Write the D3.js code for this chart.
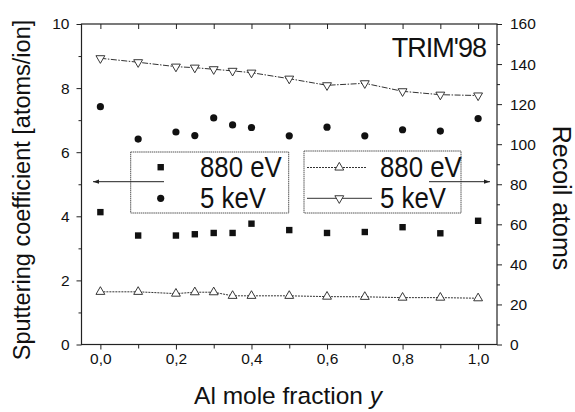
<!DOCTYPE html>
<html><head><meta charset="utf-8">
<script src="https://cdn.jsdelivr.net/npm/d3@7"></script>
<style>
html,body{margin:0;padding:0;background:#fff;}
svg{display:block;font-family:"Liberation Sans",Arial,sans-serif;}
</style></head>
<body><svg id="chart" width="575" height="412"></svg>
<script>
// ---- data ----
const xValues   = [0, 0.1, 0.2, 0.25, 0.3, 0.35, 0.4, 0.5, 0.6, 0.7, 0.8, 0.9, 1.0];
const sputter880 = [4.13, 3.40, 3.40, 3.44, 3.48, 3.48, 3.77, 3.57, 3.48, 3.51, 3.66, 3.47, 3.86];
const sputter5k  = [7.42, 6.41, 6.63, 6.52, 7.07, 6.85, 6.77, 6.51, 6.78, 6.51, 6.70, 6.66, 7.05];
const recoil880  = [26.3, 26.3, 25.4, 26.1, 26.1, 24.3, 24.3, 24.3, 23.9, 23.8, 23.4, 23.4, 23.1];
const recoil5k   = [142.9, 140.9, 138.7, 138.2, 137.4, 136.6, 135.7, 132.7, 129.4, 130.4, 126.4, 124.7, 124.3];
const xTicks = [0, 0.2, 0.4, 0.6, 0.8, 1.0];
const xMinorTicks = [0.1, 0.3, 0.5, 0.7, 0.9];
const yLeftTicks = [0, 2, 4, 6, 8, 10];
const yLeftMinor = [1, 3, 5, 7, 9];
const yRightTicks = [0, 20, 40, 60, 80, 100, 120, 140, 160];
const yRightMinor = [10, 30, 50, 70, 90, 110, 130, 150];
const legendLeft = ["880 eV", "5 keV"];
const legendRight = ["880 eV", "5 keV"];

const svg = d3.select("#chart");
const L = 81.5, R = 497, T = 24, B = 344.5;
const x = d3.scaleLinear().domain([-0.05, 1.05]).range([L, R]);
const yL = d3.scaleLinear().domain([0, 10]).range([B, T]);
const yR = d3.scaleLinear().domain([0, 160]).range([B, T]);
const fmt = d => d3.format(".1f")(d).replace(".", ",");

// axes
svg.append("g").attr("transform", `translate(0,${B})`)
  .call(d3.axisBottom(x).tickValues(xTicks).tickSize(5).tickPadding(3).tickFormat(fmt));
svg.append("g").attr("transform", `translate(0,${B})`)
  .call(d3.axisBottom(x).tickValues(xMinorTicks).tickSize(4).tickFormat(""));
svg.append("g").attr("transform", `translate(0,${T})`)
  .call(d3.axisBottom(x).tickValues(xTicks.concat(xMinorTicks)).tickSize(5).tickFormat(""));
svg.append("g").attr("transform", `translate(${L},0)`)
  .call(d3.axisLeft(yL).tickValues(yLeftTicks).tickSize(5).tickPadding(7));
svg.append("g").attr("transform", `translate(${L},0)`)
  .call(d3.axisLeft(yL).tickValues(yLeftMinor).tickSize(3).tickFormat(""));
svg.append("g").attr("transform", `translate(${R},0)`)
  .call(d3.axisRight(yR).tickValues(yRightTicks).tickSize(5).tickPadding(8));
svg.append("g").attr("transform", `translate(${R},0)`)
  .call(d3.axisRight(yR).tickValues(yRightMinor).tickSize(3).tickFormat(""));
svg.selectAll(".domain").remove();
svg.selectAll(".tick line").attr("stroke", "#222");
svg.selectAll(".tick text").attr("font-size", 15.5).attr("fill", "#111")
  .attr("font-family", "Liberation Sans, Arial, sans-serif");

// frame
svg.append("rect").attr("x", L).attr("y", T).attr("width", R - L).attr("height", B - T)
  .attr("fill", "none").attr("stroke", "#222").attr("stroke-width", 1.2);

// lines
const pts5 = xValues.map((v, i) => [x(v), yR(recoil5k[i])]);
const pts880 = xValues.map((v, i) => [x(v), yR(recoil880[i])]);
svg.append("path").attr("d", d3.line()(pts5)).attr("fill", "none")
  .attr("stroke", "#333").attr("stroke-width", 1).attr("stroke-dasharray", "6,1.5,1.5,1.5");
svg.append("path").attr("d", d3.line()(pts880)).attr("fill", "none")
  .attr("stroke", "#333").attr("stroke-width", 1).attr("stroke-dasharray", "2,1");

// markers
const tri = d3.symbol().type(d3.symbolTriangle).size(34);
svg.selectAll(".t5").data(pts5).join("path")
  .attr("d", tri).attr("transform", d => `translate(${d[0]},${d[1]}) rotate(180)`)
  .attr("fill", "#fff").attr("stroke", "#222").attr("stroke-width", 0.9);
svg.selectAll(".t880").data(pts880).join("path")
  .attr("d", tri).attr("transform", d => `translate(${d[0]},${d[1]})`)
  .attr("fill", "#fff").attr("stroke", "#222").attr("stroke-width", 0.9);
svg.selectAll(".sq").data(xValues).join("rect")
  .attr("x", (d, i) => x(d) - 3.2).attr("y", (d, i) => yL(sputter880[i]) - 3.2)
  .attr("width", 6.4).attr("height", 6.4).attr("fill", "#111");
svg.selectAll(".ci").data(xValues).join("circle")
  .attr("cx", d => x(d)).attr("cy", (d, i) => yL(sputter5k[i])).attr("r", 3.6).attr("fill", "#111");

// TRIM'98
svg.append("text").attr("x", 486).attr("y", 57).attr("text-anchor", "end")
  .attr("font-size", 27).attr("fill", "#111").attr("letter-spacing", -1).text("TRIM'98");

// legend boxes
svg.append("rect").attr("x", 130.7).attr("y", 152).attr("width", 158).attr("height", 61)
  .attr("fill", "#fff").attr("stroke", "#555").attr("stroke-width", 1).attr("stroke-dasharray", "1.5,0.6");
svg.append("rect").attr("x", 304).attr("y", 151).attr("width", 157).attr("height", 62)
  .attr("fill", "#fff").attr("stroke", "#555").attr("stroke-width", 1).attr("stroke-dasharray", "1.5,0.6");

// left legend
svg.append("rect").attr("x", 157.5).attr("y", 164).attr("width", 6.4).attr("height", 6.4).attr("fill", "#111");
svg.append("circle").attr("cx", 160.7).attr("cy", 198.3).attr("r", 3.6).attr("fill", "#111");
const lg = svg.append("g").attr("font-size", 30).attr("fill", "#111");
const sx = 0.86;
lg.append("text").attr("x", 200).attr("y", 177.5).attr("transform", `translate(200,0) scale(${sx},1) translate(-200,0)`).text(legendLeft[0]);
lg.append("text").attr("x", 200).attr("y", 208).attr("transform", `translate(200,0) scale(${sx},1) translate(-200,0)`).text(legendLeft[1]);

// right legend
svg.append("line").attr("x1", 307).attr("x2", 366).attr("y1", 167.5).attr("y2", 167.5)
  .attr("stroke", "#333").attr("stroke-dasharray", "2,1");
svg.append("path").attr("d", tri).attr("transform", "translate(339.3,167.5)")
  .attr("fill", "#fff").attr("stroke", "#222").attr("stroke-width", 0.9);
svg.append("line").attr("x1", 307).attr("x2", 372).attr("y1", 198.3).attr("y2", 198.3)
  .attr("stroke", "#333");
svg.append("path").attr("d", tri).attr("transform", "translate(339.3,198.3) rotate(180)")
  .attr("fill", "#fff").attr("stroke", "#222").attr("stroke-width", 0.9);
lg.append("text").attr("x", 380).attr("y", 177.5).attr("transform", `translate(380,0) scale(${sx},1) translate(-380,0)`).text(legendRight[0]);
lg.append("text").attr("x", 380).attr("y", 208).attr("transform", `translate(380,0) scale(${sx},1) translate(-380,0)`).text(legendRight[1]);

// arrows
svg.append("defs").append("marker").attr("id", "ah").attr("viewBox", "0 0 10 10")
  .attr("refX", 10).attr("refY", 5).attr("markerWidth", 9).attr("markerHeight", 6)
  .attr("orient", "auto").attr("markerUnits", "userSpaceOnUse")
  .append("path").attr("d", "M0,1.5 L10,5 L0,8.5 Z").attr("fill", "#222");
svg.append("line").attr("x1", 164).attr("x2", 93).attr("y1", 181.7).attr("y2", 181.7)
  .attr("stroke", "#222").attr("stroke-width", 1).attr("marker-end", "url(#ah)");
svg.append("line").attr("x1", 429).attr("x2", 490).attr("y1", 181.7).attr("y2", 181.7)
  .attr("stroke", "#222").attr("stroke-width", 1).attr("marker-end", "url(#ah)");

// axis titles
svg.append("text").attr("transform", "translate(30,190) rotate(-90)").attr("text-anchor", "middle")
  .attr("font-size", 23.5).attr("fill", "#111").text("Sputtering coefficient [atoms/ion]");
svg.append("text").attr("transform", "translate(553,198) rotate(90)").attr("text-anchor", "middle")
  .attr("font-size", 25).attr("fill", "#111").text("Recoil atoms");
const xl = svg.append("text").attr("x", 288).attr("y", 404).attr("text-anchor", "middle")
  .attr("font-size", 24.5).attr("fill", "#111");
xl.append("tspan").text("Al mole fraction ");
xl.append("tspan").attr("font-style", "italic").text("y");
</script></body></html>
